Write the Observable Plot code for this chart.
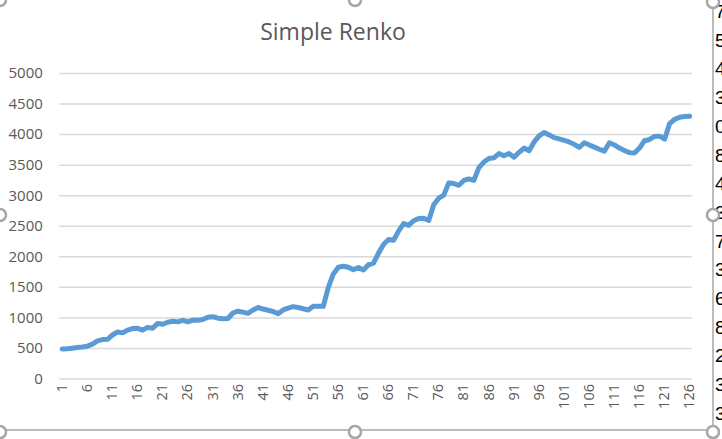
<!DOCTYPE html>
<html>
<head>
<meta charset="utf-8">
<script src="https://cdn.jsdelivr.net/npm/d3@7"></script>
<script src="https://cdn.jsdelivr.net/npm/@observablehq/plot@0.6"></script>
<style>
  html, body { margin: 0; padding: 0; background: #fff; }
  #wrap { position: relative; width: 722px; height: 439px; overflow: hidden; background: #fff; }
  #title { position: absolute; left: 0; width: 666px; top: 15px; text-align: center;
           font-family: "Open Sans", sans-serif; font-size: 23px; color: #595959; }
  #chart { position: absolute; left: 0; top: 0; }
  #deco { position: absolute; left: 0; top: 0; pointer-events: none; }
  #cells { position: absolute; left: 714px; top: 0; width: 8px; height: 439px; overflow: hidden;
           font-family: "Liberation Sans", sans-serif; font-size: 19px; color: #000; }
  #cells div { position: absolute; left: 1px; }
</style>
</head>
<body>
<div id="wrap">
  <div id="chart"></div>
  <div id="title">Simple Renko</div>
  <div id="cells"></div>
  <svg id="deco" width="722" height="439"></svg>
</div>
<script>
// Categories (brick index) and series values
const categories = d3.range(1, 127);
const renko = [
  490, 495, 505, 515, 525, 537, 570, 625, 645, 650,
  720, 770, 755, 800, 825, 830, 800, 845, 830, 910,
  895, 930, 945, 935, 960, 935, 965, 960, 975, 1010,
  1020, 995, 985, 990, 1080, 1110, 1095, 1075, 1130, 1170,
  1145, 1125, 1105, 1070, 1130, 1160, 1185, 1170, 1150, 1130,
  1190, 1192, 1190, 1500, 1720, 1830, 1845, 1830, 1790, 1825,
  1785, 1870, 1895, 2060, 2200, 2285, 2270, 2420, 2545, 2515,
  2590, 2625, 2630, 2595, 2850, 2960, 3010, 3210, 3200, 3170,
  3250, 3275, 3250, 3460, 3550, 3610, 3620, 3690, 3655, 3690,
  3630, 3710, 3780, 3735, 3880, 3980, 4035, 3995, 3950, 3930,
  3905, 3880, 3840, 3790, 3866, 3830, 3795, 3760, 3730, 3866,
  3830, 3780, 3740, 3705, 3700, 3780, 3900, 3920, 3970, 3975,
  3925, 4180, 4250, 4285, 4295, 4300
];
const yTicks = [0, 500, 1000, 1500, 2000, 2500, 3000, 3500, 4000, 4500, 5000];
const xTickLabels = [1, 6, 11, 16, 21, 26, 31, 36, 41, 46, 51, 56, 61, 66, 71, 76, 81, 86, 91, 96, 101, 106, 111, 116, 121, 126];
const sheetCells = ["7", "5", "4", "3", "0", "8", "4", "3", "7", "3", "6", "8", "2", "3", "3"];

const data = categories.map((c, i) => ({c, v: renko[i]}));

const chart = Plot.plot({
  width: 722,
  height: 439,
  marginLeft: 59.3,
  marginRight: 30.3,
  marginTop: 73,
  marginBottom: 60.5,
  x: {domain: [0.5, 126.5]},
  y: {domain: [0, 5000]},
  style: {fontFamily: "Open Sans, sans-serif", color: "#595959", background: "transparent"},
  marks: [
    Plot.ruleY(yTicks, {stroke: "#d9d9d9", strokeWidth: 1.5}),
    Plot.axisY({ticks: yTicks, tickSize: 0, tickPadding: 17, fontSize: 15, label: null,
                tickFormat: d => String(d)}),
    Plot.axisX({ticks: xTickLabels, tickSize: 0, tickRotate: -90, tickPadding: 5, fontSize: 14.5,
                label: null, tickFormat: d => String(d)}),
    Plot.line(data, {x: "c", y: "v", stroke: "#5b9bd5", strokeWidth: 5,
                     strokeLinejoin: "round", strokeLinecap: "round"})
  ]
});
document.getElementById("chart").appendChild(chart);

// spreadsheet cells peeking at the right edge
const cells = document.getElementById("cells");
sheetCells.forEach((t, i) => {
  const d = document.createElement("div");
  d.textContent = t;
  d.style.top = (1 + i * 28.7) + "px";
  cells.appendChild(d);
});

// chart frame and selection handles
const deco = d3.select("#deco");
deco.append("line").attr("x1", 713).attr("x2", 713).attr("y1", 0).attr("y2", 439)
  .attr("stroke", "#a6a6a6").attr("stroke-width", 1.5);
deco.append("line").attr("x1", 0).attr("x2", 713).attr("y1", 430).attr("y2", 430)
  .attr("stroke", "#a6a6a6").attr("stroke-width", 1.5);
[[0, 0], [355, 0], [713, 2], [0, 215], [713, 215], [0, 432], [355, 432], [713, 432]].forEach(([x, y]) => {
  deco.append("circle").attr("cx", x).attr("cy", y).attr("r", 6)
    .attr("fill", "#fff").attr("stroke", "#a6a6a6").attr("stroke-width", 2.5);
});
</script>
</body>
</html>
